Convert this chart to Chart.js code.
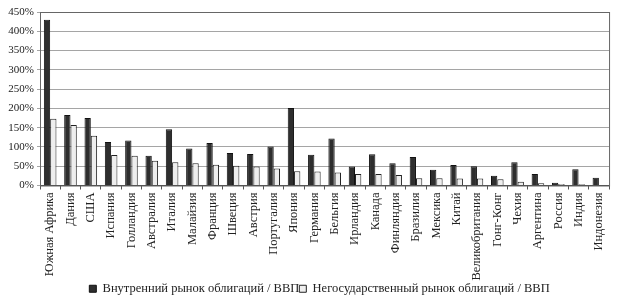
<!DOCTYPE html>
<html>
<head>
<meta charset="utf-8">
<script src="https://cdn.jsdelivr.net/npm/chart.js@4"></script>
<style>
  html, body { margin: 0; padding: 0; background: #fff; }
  #wrap { width: 617px; height: 300px; }
</style>
</head>
<body>
<div id="wrap"><canvas id="chart" width="617" height="300"></canvas></div>
<script>
const countries = ['Южная Африка', 'Дания', 'США', 'Испания', 'Голландия', 'Австралия', 'Италия',
  'Малайзия', 'Франция', 'Швеция', 'Австрия', 'Португалия', 'Япония', 'Германия', 'Бельгия',
  'Ирландия', 'Канада', 'Финляндия', 'Бразилия', 'Мексика', 'Китай', 'Великобритания',
  'Гонг-Конг', 'Чехия', 'Аргентина', 'Россия', 'Индия', 'Индонезия']
const domestic = [430, 183, 175, 113, 117, 77, 146, 96, 110, 84, 82, 101, 201, 80, 122,
  49, 81, 58, 74, 41, 53, 50, 25, 60, 30, 7, 42, 20]
const nonGov = [173, 157, 129, 79, 77, 64, 60, 58, 54, 51, 49, 44, 37, 36, 34,
  30, 30, 27, 19, 19, 18, 18, 16, 10, 6, 4, 3, 1]
const seriesNames = ['Внутренний рынок облигаций / ВВП', 'Негосударственный рынок облигаций / ВВП']
const yMax = 450
const yStep = 50

const serif = '"Liberation Serif", "DejaVu Serif", serif'

// рамка вокруг области графика
const frame = {
  id: 'frame',
  afterDraw(chart) {
    const { ctx, chartArea: a } = chart
    ctx.save()
    ctx.strokeStyle = '#666'
    ctx.lineWidth = 1
    ctx.strokeRect(a.left + 0.5, a.top + 0.5, a.right - a.left, a.bottom - a.top)
    ctx.restore()
  }
}

// легенда в оригинале чуть правее и ниже
const shiftLegend = {
  id: 'shiftLegend',
  afterLayout(chart) {
    const lg = chart.legend
    lg.left += 13
    lg.right += 13
    lg.top += 5
    lg.bottom += 5
    // подписи оси X не обрезать по рамке шкалы
    chart.scales.x.bottom = chart.height
  }
}

new Chart(document.getElementById('chart').getContext('2d'), {
  type: 'bar',
  data: {
    labels: countries,
    datasets: [{
      label: seriesNames[0],
      data: domestic,
      backgroundColor: '#2e2e2e',
      borderColor: '#111',
      borderWidth: 1
    }, {
      label: seriesNames[1],
      data: nonGov,
      backgroundColor: '#eeeeee',
      borderColor: '#222',
      borderWidth: 1
    }]
  },
  options: {
    responsive: false,
    animation: false,
    layout: { padding: { top: 12, right: 6, left: 2, bottom: 0 } },
    datasets: {
      bar: { categoryPercentage: 0.62, barPercentage: 1 }
    },
    scales: {
      x: {
        grid: { display: true, drawOnChartArea: false, tickLength: 4, color: '#555', offset: true },
        border: { color: '#444' },
        ticks: {
          autoSkip: false,
          minRotation: 90,
          maxRotation: 90,
          padding: 3,
          color: '#222',
          font: { family: serif, size: 12.5 }
        },
        afterFit(scale) { scale.height = 92 }
      },
      y: {
        min: 0,
        max: yMax,
        grid: { color: '#a5a5a5', tickLength: 3 },
        border: { color: '#444' },
        ticks: {
          stepSize: yStep,
          padding: 3,
          color: '#222',
          font: { family: serif, size: 11 },
          callback: v => v + '%'
        },
        afterFit(scale) { scale.width = 38 }
      }
    },
    plugins: {
      legend: {
        position: 'bottom',
        labels: {
          boxWidth: 7,
          boxHeight: 7,
          padding: 0,
          color: '#222',
          font: { family: serif, size: 12.5 }
        }
      },
      tooltip: { enabled: false }
    }
  },
  plugins: [frame, shiftLegend]
})
</script>
</body>
</html>
